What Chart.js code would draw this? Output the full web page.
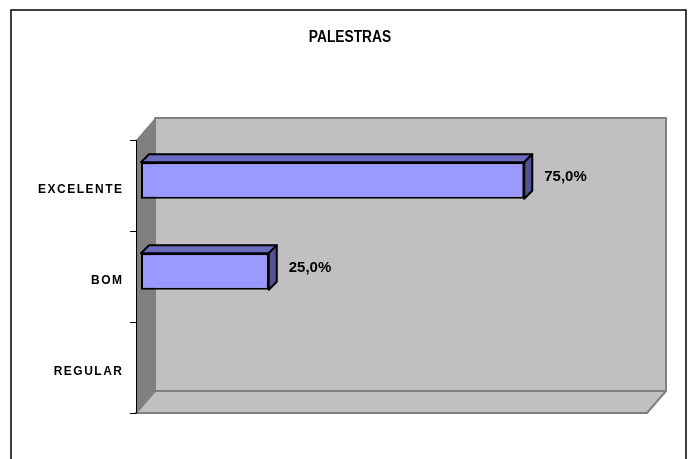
<!DOCTYPE html>
<html>
<head>
<meta charset="utf-8">
<style>
  body { margin: 0; background: #fff; }
  canvas { display: block; }
</style>
<script src="https://cdn.jsdelivr.net/npm/chart.js@4.4.0/dist/chart.umd.min.js"></script>
</head>
<body>
<canvas id="myChart" width="694" height="459"></canvas>
<script>
var chartTitle = 'PALESTRAS';
var categories = ['EXCELENTE', 'BOM', 'REGULAR'];
var values = [0.75, 0.25, 0];
var valueLabels = ['75,0%', '25,0%', '0,0%'];

// depth of the 3d walls and of the bars
var wallDx = 19, wallDy = -22;
var barDepth = 8;
var planeShift = 5;

var excel3d = {
    id: 'excel3d',
    beforeDraw: function (chart) {
        var ctx = chart.ctx;
        var ca = chart.chartArea;
        var yScale = chart.scales.y;
        ctx.save();
        ctx.fillStyle = '#ffffff';
        ctx.fillRect(0, 0, chart.width, chart.height);

        // outer frame
        ctx.strokeStyle = '#000';
        ctx.lineWidth = 1.5;
        ctx.strokeRect(11, 10, 675, 480);

        // title, squeezed a bit like the narrow original font
        ctx.save();
        ctx.translate(350, 38);
        ctx.scale(0.86, 1);
        ctx.fillStyle = '#000';
        ctx.font = 'bold 16px "Liberation Sans", Arial, sans-serif';
        ctx.textAlign = 'center';
        ctx.textBaseline = 'middle';
        ctx.fillText(chartTitle, 0, 0);
        ctx.restore();

        // front plane of the box
        var l = ca.left - planeShift, t = ca.top + planeShift;
        var r = ca.right - planeShift, b = ca.bottom + planeShift;

        ctx.lineJoin = 'round';
        // back wall
        ctx.fillStyle = '#c0c0c0';
        ctx.strokeStyle = '#808080';
        ctx.lineWidth = 2;
        ctx.fillRect(l + wallDx, t + wallDy, r - l, b - t);
        ctx.strokeRect(l + wallDx, t + wallDy, r - l, b - t);
        // side wall
        ctx.fillStyle = '#808080';
        ctx.beginPath();
        ctx.moveTo(l, t);
        ctx.lineTo(l + wallDx, t + wallDy);
        ctx.lineTo(l + wallDx, b + wallDy);
        ctx.lineTo(l, b);
        ctx.closePath();
        ctx.fill();
        // floor
        ctx.fillStyle = '#c0c0c0';
        ctx.beginPath();
        ctx.moveTo(l, b);
        ctx.lineTo(l + wallDx, b + wallDy);
        ctx.lineTo(r + wallDx, b + wallDy);
        ctx.lineTo(r, b);
        ctx.closePath();
        ctx.fill();
        ctx.stroke();

        // axis line and tick marks
        ctx.strokeStyle = '#000';
        ctx.lineWidth = 1;
        ctx.beginPath();
        ctx.moveTo(l + 0.5, t);
        ctx.lineTo(l + 0.5, b);
        var half = (yScale.getPixelForValue(1) - yScale.getPixelForValue(0)) / 2;
        for (var i = 0; i <= categories.length; i++) {
            var ty = Math.round(yScale.getPixelForValue(i) - half + planeShift) + 0.5;
            ctx.moveTo(l - 6, ty);
            ctx.lineTo(l + 0.5, ty);
        }
        ctx.stroke();

        // category labels
        ctx.fillStyle = '#000';
        ctx.font = 'bold 12px "Liberation Sans", Arial, sans-serif';
        ctx.letterSpacing = '1.5px';
        ctx.textAlign = 'right';
        ctx.textBaseline = 'middle';
        categories.forEach(function (c, i) {
            ctx.fillText(c, l - 14 + 1.5, yScale.getPixelForValue(i) + planeShift + 4);
        });
        ctx.restore();
    },
    afterDatasetsDraw: function (chart) {
        var ctx = chart.ctx;
        var meta = chart.getDatasetMeta(0);
        ctx.save();
        ctx.lineWidth = 2;
        ctx.lineJoin = 'round';
        ctx.strokeStyle = '#000';
        meta.data.forEach(function (bar, i) {
            if (!values[i]) return;
            var p = bar.getProps(['x', 'y', 'base', 'height'], true);
            var top = p.y - p.height / 2, bottom = p.y + p.height / 2;
            // top face
            ctx.fillStyle = '#6b6bc0';
            ctx.beginPath();
            ctx.moveTo(p.base, top);
            ctx.lineTo(p.base + barDepth, top - barDepth);
            ctx.lineTo(p.x + barDepth, top - barDepth);
            ctx.lineTo(p.x, top);
            ctx.closePath();
            ctx.fill();
            ctx.stroke();
            // side face
            ctx.fillStyle = '#525296';
            ctx.beginPath();
            ctx.moveTo(p.x, top);
            ctx.lineTo(p.x + barDepth, top - barDepth);
            ctx.lineTo(p.x + barDepth, bottom - barDepth);
            ctx.lineTo(p.x, bottom);
            ctx.closePath();
            ctx.fill();
            ctx.stroke();
            // value label
            ctx.fillStyle = '#000';
            ctx.font = 'bold 15px "Liberation Sans", Arial, sans-serif';
            ctx.textAlign = 'left';
            ctx.textBaseline = 'middle';
            ctx.fillText(valueLabels[i], p.x + barDepth + 12, p.y - 4);
        });
        ctx.restore();
    }
};

var ctx = document.getElementById('myChart').getContext('2d');
var chart = new Chart(ctx, {
    type: 'bar',
    data: {
        labels: categories,
        datasets: [{
            data: values,
            backgroundColor: '#9999ff',
            borderColor: '#000',
            borderWidth: 2,
            borderSkipped: false,
            barPercentage: 0.4,
            categoryPercentage: 1.0
        }]
    },
    options: {
        indexAxis: 'y',
        responsive: false,
        animation: false,
        layout: {
            padding: { left: 141, right: 42, top: 135, bottom: 51 }
        },
        scales: {
            x: { display: false, min: 0, max: 1 },
            y: { display: false }
        },
        plugins: {
            legend: { display: false },
            title: { display: false },
            tooltip: { enabled: false }
        }
    },
    plugins: [excel3d]
});
</script>
</body>
</html>
